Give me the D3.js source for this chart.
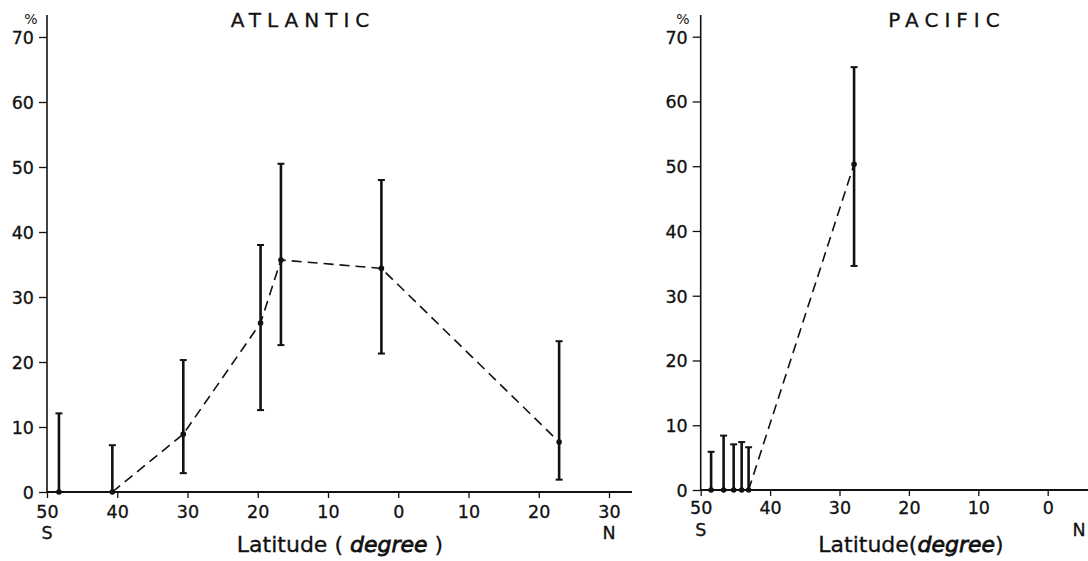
<!DOCTYPE html>
<html>
<head>
<meta charset="utf-8">
<script src="https://cdn.jsdelivr.net/npm/d3@7"></script>
<style>
  html, body { margin: 0; padding: 0; background: #fff; }
  svg { display: block; }
  text { font-family: "DejaVu Sans", sans-serif; fill: #111; }
</style>
</head>
<body>
<svg id="chart" width="1088" height="561"></svg>
<script>
// ---- Data (latitude: negative = South, positive = North) ----
const atlLat  = [-48.3, -40.7, -30.6, -19.6, -16.7, -2.4, 22.9];
const atlVal  = [0, 0, 8.9, 26.0, 35.7, 34.4, 7.7];
const atlLow  = [0, 0, 2.9, 12.6, 22.6, 21.3, 1.9];
const atlHigh = [12.1, 7.2, 20.3, 38.0, 50.5, 48.0, 23.2];
const atlLineStart = 1;   // dashed line starts at this point

const pacLat  = [-48.5, -46.7, -45.25, -44.1, -43.1, -27.9];
const pacVal  = [0, 0, 0, 0, 0, 50.3];
const pacLow  = [0, 0, 0, 0, 0, 34.6];
const pacHigh = [5.9, 8.4, 7.05, 7.4, 6.6, 65.3];
const pacLineStart = 4;

const yTicks = [0, 10, 20, 30, 40, 50, 60, 70];
const atlXTicks = [-50, -40, -30, -20, -10, 0, 10, 20, 30];
const pacXTicks = [-50, -40, -30, -20, -10, 0];

const svg = d3.select("#chart");

function panel(cfg) {
  const g = svg.append("g");
  const x = d3.scaleLinear().domain(cfg.xDomain).range(cfg.xRange);
  const y = d3.scaleLinear().domain([0, 70]).range(cfg.yRange);

  // y axis
  const yAxis = d3.axisLeft(y).tickValues(yTicks).tickSize(8).tickPadding(5)
    .tickFormat(d => d);
  const ya = g.append("g").attr("transform", `translate(${x(cfg.xDomain[0])},0)`).call(yAxis);
  ya.select(".domain").remove();
  ya.selectAll(".tick line").attr("stroke", "#111").attr("stroke-width", 1.3);
  ya.selectAll(".tick text").attr("font-size", 17.5).attr("dy", "0.36em")
    .style("font-family", "DejaVu Sans, sans-serif").attr("fill", "#111")
    .attr("stroke", "#111").attr("stroke-width", 0.3);
  g.append("line")
    .attr("x1", x(cfg.xDomain[0])).attr("x2", x(cfg.xDomain[0]))
    .attr("y1", cfg.yTop).attr("y2", y(0))
    .attr("stroke", "#111").attr("stroke-width", 1.6);

  // x axis
  const xAxis = d3.axisBottom(x).tickValues(cfg.xTicks).tickSize(6).tickPadding(cfg.xPad)
    .tickFormat(d => Math.abs(d));
  const xa = g.append("g").attr("transform", `translate(0,${y(0)})`).call(xAxis);
  xa.select(".domain").remove();
  xa.selectAll(".tick line").attr("stroke", "#111").attr("stroke-width", 1.3);
  xa.selectAll(".tick text").attr("font-size", 17.5)
    .style("font-family", "DejaVu Sans, sans-serif").attr("fill", "#111")
    .attr("stroke", "#111").attr("stroke-width", 0.3);
  g.append("line")
    .attr("x1", x(cfg.xDomain[0])).attr("x2", cfg.xAxisEnd)
    .attr("y1", y(0)).attr("y2", y(0))
    .attr("stroke", "#111").attr("stroke-width", 1.8);

  // "%" label
  g.append("text").attr("x", cfg.pctX).attr("y", 24).attr("font-size", 14)
    .attr("text-anchor", "middle").text("%");

  // S / N labels
  g.append("text").attr("x", x(-50)).attr("y", cfg.snY).attr("font-size", 17.5)
    .attr("text-anchor", "middle").attr("stroke", "#111").attr("stroke-width", 0.3).text("S");
  g.append("text").attr("x", cfg.nX).attr("y", cfg.snY).attr("font-size", 17.5)
    .attr("text-anchor", "middle").attr("stroke", "#111").attr("stroke-width", 0.3).text("N");

  // title
  g.append("text").attr("x", cfg.titleX).attr("y", 27).attr("font-size", 20)
    .attr("text-anchor", "middle").attr("letter-spacing", 6)
    .attr("stroke", "#111").attr("stroke-width", 0.3).text(cfg.title);

  // axis title
  const t = g.append("text").attr("x", cfg.labelX).attr("y", 552).attr("font-size", 22)
    .attr("text-anchor", "middle").attr("stroke", "#111").attr("stroke-width", 0.3);
  t.append("tspan").text(cfg.labelParts[0]);
  t.append("tspan").attr("font-style", "italic")
    .attr("stroke-width", 0.8).text(cfg.labelParts[1]);
  t.append("tspan").text(cfg.labelParts[2]);

  const pts = cfg.lat.map((d, i) => ({lat: d, v: cfg.val[i], lo: cfg.low[i], hi: cfg.high[i]}));

  // dashed line
  const line = d3.line().x(d => x(d.lat)).y(d => y(d.v));
  g.append("path").datum(pts.slice(cfg.lineStart))
    .attr("d", line).attr("fill", "none").attr("stroke", "#111")
    .attr("stroke-width", 1.6).attr("stroke-dasharray", "10,6");

  // error bars
  const eb = g.selectAll(".eb").data(pts).enter().append("g");
  eb.append("line")
    .attr("x1", d => x(d.lat)).attr("x2", d => x(d.lat))
    .attr("y1", d => y(d.lo)).attr("y2", d => y(d.hi))
    .attr("stroke", "#111").attr("stroke-width", 2.6);
  eb.append("line")
    .attr("x1", d => x(d.lat) - 3.5).attr("x2", d => x(d.lat) + 3.5)
    .attr("y1", d => y(d.hi)).attr("y2", d => y(d.hi))
    .attr("stroke", "#111").attr("stroke-width", 2);
  eb.filter(d => d.lo > 0).append("line")
    .attr("x1", d => x(d.lat) - 3.5).attr("x2", d => x(d.lat) + 3.5)
    .attr("y1", d => y(d.lo)).attr("y2", d => y(d.lo))
    .attr("stroke", "#111").attr("stroke-width", 2);
  eb.append("circle")
    .attr("cx", d => x(d.lat)).attr("cy", d => y(d.v)).attr("r", 2.8)
    .attr("fill", "#111");
}

panel({
  title: "ATLANTIC", titleX: 303,
  xDomain: [-50, 30], xRange: [47, 609], xAxisEnd: 632, xTicks: atlXTicks, xPad: 8,
  yRange: [492, 37], yTop: 15,
  lat: atlLat, val: atlVal, low: atlLow, high: atlHigh, lineStart: atlLineStart,
  pctX: 31, snY: 539, nX: 609,
  labelX: 340, labelParts: ["Latitude ( ", "degree", " )"]
});

panel({
  title: "PACIFIC", titleX: 947,
  xDomain: [-50, 0], xRange: [700.7, 1047.7], xAxisEnd: 1090, xTicks: pacXTicks, xPad: 6,
  yRange: [490, 36.7], yTop: 15,
  lat: pacLat, val: pacVal, low: pacLow, high: pacHigh, lineStart: pacLineStart,
  pctX: 683, snY: 536, nX: 1079,
  labelX: 911, labelParts: ["Latitude(", "degree", ")"]
});
</script>
</body>
</html>
